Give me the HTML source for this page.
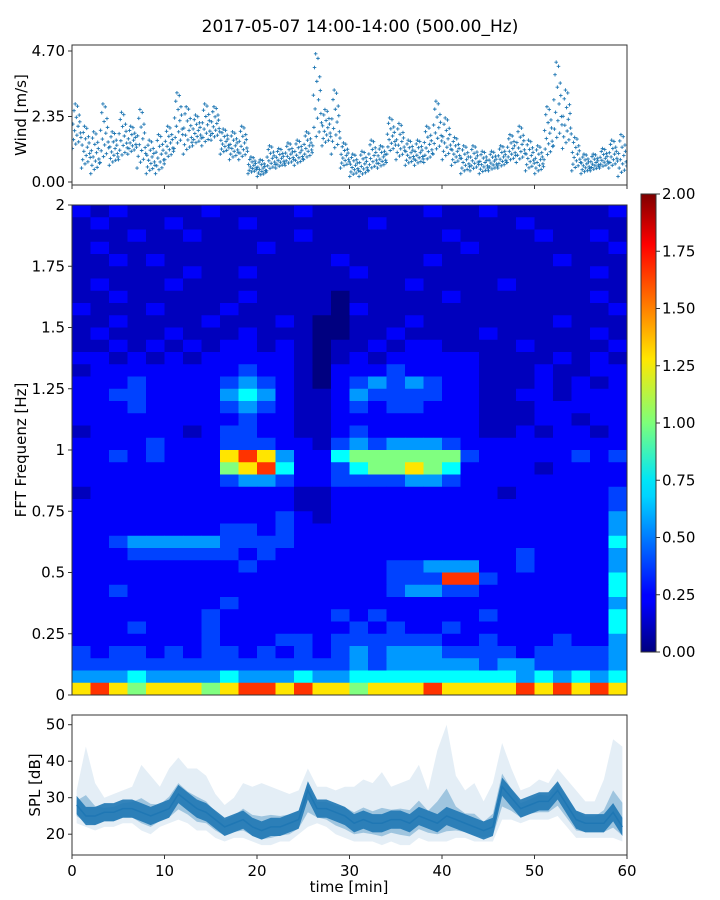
<!DOCTYPE html>
<html><head><meta charset="utf-8"><style>
body{margin:0;background:#fff}
svg{display:block;font-family:"DejaVu Sans","Liberation Sans",sans-serif}
</style></head><body>
<svg id="fig" width="720" height="900" viewBox="0 0 720 900" xmlns="http://www.w3.org/2000/svg">
<defs>
<linearGradient id="jetg" x1="0" y1="1" x2="0" y2="0">
<stop offset="0" stop-color="#00007f"/><stop offset="0.11" stop-color="#0000ff"/><stop offset="0.125" stop-color="#0000ff"/><stop offset="0.34" stop-color="#00d4ff"/><stop offset="0.375" stop-color="#00e5f7"/><stop offset="0.5" stop-color="#7dff7a"/><stop offset="0.64" stop-color="#ffe600"/><stop offset="0.66" stop-color="#ffd400"/><stop offset="0.89" stop-color="#ff0000"/><stop offset="1" stop-color="#7f0000"/>
</linearGradient>
<clipPath id="clipTop"><rect x="72" y="45" width="555" height="140"/></clipPath>
<clipPath id="clipBot"><rect x="72" y="715" width="555" height="140"/></clipPath>
</defs>
<text x="360" y="32" text-anchor="middle" font-size="17">2017-05-07 14:00-14:00 (500.00_Hz)</text>
<g id="gTop"></g>
<g id="gSpec"></g>
<g id="gCb"></g>
<g id="gBot"></g>
</svg>
<script>
// ---- data ----
const windLo=[1.2,0.5,0.3,0.7,0.6,0.8,1.0,0.5,0.3,0.3,0.8,1.2,1.0,1.3,1.3,1.5,1.0,0.8,0.8,0.3,0.2,0.4,0.5,0.6,0.6,0.8,1.3,1.3,1.0,0.5,0.2,0.2,0.4,0.5,1.0,0.8,0.6,0.6,0.7,1.0,0.8,0.6,0.3,0.4,0.3,0.4,0.5,0.7,0.7,0.4,0.3,0.8,1.3,1.2,0.4,0.3,0.4,0.5,0.5,0.2];
const windHi=[2.8,2.0,1.8,2.8,1.8,2.5,2.0,2.6,1.5,1.7,2.0,3.2,2.7,2.4,2.8,2.7,1.9,1.8,2.0,0.9,0.8,1.3,1.2,1.4,1.5,1.8,4.6,2.6,3.3,1.4,1.0,1.1,1.5,1.3,2.3,2.1,1.5,1.5,2.0,2.9,2.3,1.6,1.3,1.3,1.1,1.1,1.3,1.7,2.0,1.5,1.3,2.7,4.3,3.3,1.6,1.0,1.0,1.2,1.5,1.7];
const splMean=[28,25,25,26,26,27,27,26,25,26,27,31,29,27,26,24,22,23,24,22,21,22,22,23,24,32,27,27,26,25,23,24,23,23,24,24,23,25,24,23,25,24,23,22,21,22,33,30,27,28,29,29,32,28,24,23,23,23,26,22];
const splLo=[23,22,21,22,22,23,23,21,20,22,23,24,23,21,21,19,18,19,19,18,17,17,18,18,20,22,23,22,20,19,18,18,18,17,18,17,17,19,18,18,18,19,19,18,18,18,24,24,23,24,24,24,25,22,19,19,19,19,19,18];
const splHi=[32,44,34,30,31,32,33,39,36,33,38,41,38,38,36,31,28,30,34,33,34,33,32,31,32,38,33,33,32,33,33,35,34,37,33,34,35,39,32,43,50,36,32,34,29,34,45,38,32,33,35,34,38,35,32,29,29,35,46,44];
const specLevels=[0.0,0.12,0.24,0.38,0.55,0.75,1.0,1.3,1.65,1.95];
const specRows=[ // top (1.95-2.0 Hz) to bottom (0-0.05 Hz); digit indexes specLevels; 30 columns of 2 min
"212111121111211111121121111112",
"121112111211111121111111211111",
"111211211111211111112111121121",
"121111111121111111111211111112",
"112121111111112111121111112111",
"111111211211111211111111111121",
"121112111111111111211112111111",
"112111111211110111112111111121",
"211121112111110211111111111112",
"112111121112100111211111112111",
"121112111211100112111121111121",
"112121212212101121221111211112",
"221212122222101212222211112121",
"122222222322102223222211121122",
"222322223432102343432211121212",
"223322224542112433332211221222",
"222322223432112323322211122222",
"222222222322112222222211122122",
"122222123322112322222211212212",
"222232223332213434443222222222",
"223232227874225666666322222323",
"222222226785223566765222212222",
"222222223443223333443222222222",
"122222222222112222222221222223",
"222222222222112222222222222223",
"222222222223212222222222222224",
"222222223323222222222222222224",
"223444443333222222222222222225",
"222333333232222222222222322224",
"222222222322222223344422322224",
"222222222222222223338832222225",
"223222222222222223443322222225",
"222222223222222222222222222224",
"222222232222223232222232222225",
"222322232222222323223222222225",
"222222232223323333332232223224",
"323323233232323434443333233334",
"333333333333333434444434433334",
"444544445444544555555555454545",
"787677767887877677787777878787"];
const windTicks=[0,2.35,4.7];
const freqTicks=[0,0.25,0.5,0.75,1,1.25,1.5,1.75,2];
const cbTicks=[0,0.25,0.5,0.75,1,1.25,1.5,1.75,2];
const splTicks=[20,30,40,50];
const timeTicks=[0,10,20,30,40,50,60];

// ---- helpers ----
const NS='http://www.w3.org/2000/svg';
function mk(tag,attrs,parent){const e=document.createElementNS(NS,tag);for(const k in attrs)e.setAttribute(k,attrs[k]);parent.appendChild(e);return e;}
const X0=72,X1=627;
const xT=t=>X0+(X1-X0)*t/60;
const yW=v=>182-v*(131/4.7);
const yF=f=>695-f*(490/2);
const yS=v=>724.7-(v-50)*3.65;
const yC=v=>652-v*229;
function jet(v){let t=Math.max(0,Math.min(1,v/2));
 const r=Math.max(0,Math.min(1,Math.min(4*t-1.5,-4*t+4.5)));
 const g=Math.max(0,Math.min(1,Math.min(4*t-0.5,-4*t+3.5)));
 const b=Math.max(0,Math.min(1,Math.min(4*t+0.5,-4*t+2.5)));
 return `rgb(${Math.round(r*255)},${Math.round(g*255)},${Math.round(b*255)})`;}
function frame(g,y0,h,name){const r=mk('rect',{x:X0,y:y0,width:X1-X0,height:h,fill:'none',stroke:'#333','stroke-width':1},g);
 
 }
function ytick(g,y,label,name){const l=mk('line',{x1:X0-4,x2:X0,y1:y,y2:y,stroke:'#333'},g);
 
 
 const t=mk('text',{x:X0-7,y:y+5,'text-anchor':'end','font-size':15},g);t.textContent=label;
 
 }

// ---- wind panel ----
const gT=document.getElementById('gTop');
const wc=mk('g',{'clip-path':'url(#clipTop)'},gT);
const fr=[0,0.55,0.2,0.85,0.4,1,0.1,0.7,0.3,0.95,0.5,0.15,0.75,0.6,0.35,0.25];
windLo.forEach((lo,i)=>{const hi=windHi[i];
 fr.forEach((f,k)=>{const t=i+(k+0.5)/fr.length;const v=lo+(hi-lo)*f;const x=xT(t),y=yW(v);
  const p=mk('path',{d:`M${x-1.8},${y}h3.6M${x},${y-1.8}v3.6`,stroke:'#1f77b4','stroke-width':0.9},wc);
  
  });});
frame(gT,45,140,'wind-axes-frame');
windTicks.forEach(v=>ytick(gT,yW(v),v.toFixed(2),'wind-y'));
timeTicks.forEach(t=>{const l=mk('line',{x1:xT(t),x2:xT(t),y1:185,y2:189,stroke:'#333'},gT);
 
 });
const wl=mk('text',{x:26,y:115,'text-anchor':'middle','font-size':15,transform:'rotate(-90 26 115)'},gT);wl.textContent='Wind [m/s]';



// ---- spectrogram ----
const gS=document.getElementById('gSpec');
const nR=specRows.length,nC=30;
specRows.forEach((row,ri)=>{const fTop=2-ri*(2/nR),fBot=fTop-2/nR;
 for(let c=0;c<nC;c++){const d=+(row[c]||'2');const v=specLevels[d];
  const r=mk('rect',{x:xT(c*2),y:yF(fTop),width:xT(c*2+2)-xT(c*2)+0.3,height:yF(fBot)-yF(fTop)+0.3,fill:jet(v)},gS);
  
  }});
frame(gS,205,490,'spectrogram-axes-frame');
freqTicks.forEach(f=>ytick(gS,yF(f),String(f),'freq-y'));
const sl=mk('text',{x:26,y:450,'text-anchor':'middle','font-size':15,transform:'rotate(-90 26 450)'},gS);sl.textContent='FFT Frequenz [Hz]';



// ---- colorbar ----
const gC=document.getElementById('gCb');
const cr=mk('rect',{x:641,y:194,width:15,height:458,fill:'url(#jetg)',stroke:'#333','stroke-width':1},gC);


cbTicks.forEach(v=>{const y=yC(v);const l=mk('line',{x1:656,x2:660,y1:y,y2:y,stroke:'#333'},gC);
 
 
 const t=mk('text',{x:662,y:y+5,'font-size':15},gC);t.textContent=v.toFixed(2);
 
 });

// ---- SPL panel ----
const gB=document.getElementById('gBot');
const bc=mk('g',{'clip-path':'url(#clipBot)'},gB);
function band(lo,hi,fill,op,name){let d='';
 lo.forEach((v,i)=>{d+=(i?'L':'M')+xT(i+0.5)+','+yS(v);});
 for(let i=hi.length-1;i>=0;i--)d+='L'+xT(i+0.5)+','+yS(hi[i]);
 const p=mk('path',{d:d+'Z',fill:fill,'fill-opacity':op},bc);
 
 }
band(splLo,splHi,'#1f77b4',0.12,'spl-range-band');
band(splMean.map((m,i)=>m-(m-splLo[i])*0.6),splMean.map((m,i)=>m+(splHi[i]-m)*0.3),'#1f77b4',0.35,'spl-inner-band');
band(splMean.map(m=>m-2.5),splMean.map(m=>m+2.5),'#1f77b4',0.9,'spl-core-band');
let dm='';splMean.forEach((v,i)=>{dm+=(i?'L':'M')+xT(i+0.5)+','+yS(v);});
const ml=mk('path',{d:dm,fill:'none',stroke:'#1f77b4','stroke-width':1.5},bc);


frame(gB,715,140,'spl-axes-frame');
splTicks.forEach(v=>ytick(gB,yS(v),String(v),'spl-y'));
timeTicks.forEach(t=>{const l=mk('line',{x1:xT(t),x2:xT(t),y1:855,y2:859,stroke:'#333'},gB);
 
 
 const tx=mk('text',{x:xT(t),y:876,'text-anchor':'middle','font-size':15},gB);tx.textContent=String(t);
 
 });
const bl=mk('text',{x:40,y:785,'text-anchor':'middle','font-size':15,transform:'rotate(-90 40 785)'},gB);bl.textContent='SPL [dB]';


const xl=mk('text',{x:349,y:892,'text-anchor':'middle','font-size':15},gB);xl.textContent='time [min]';


</script>
</body></html>
